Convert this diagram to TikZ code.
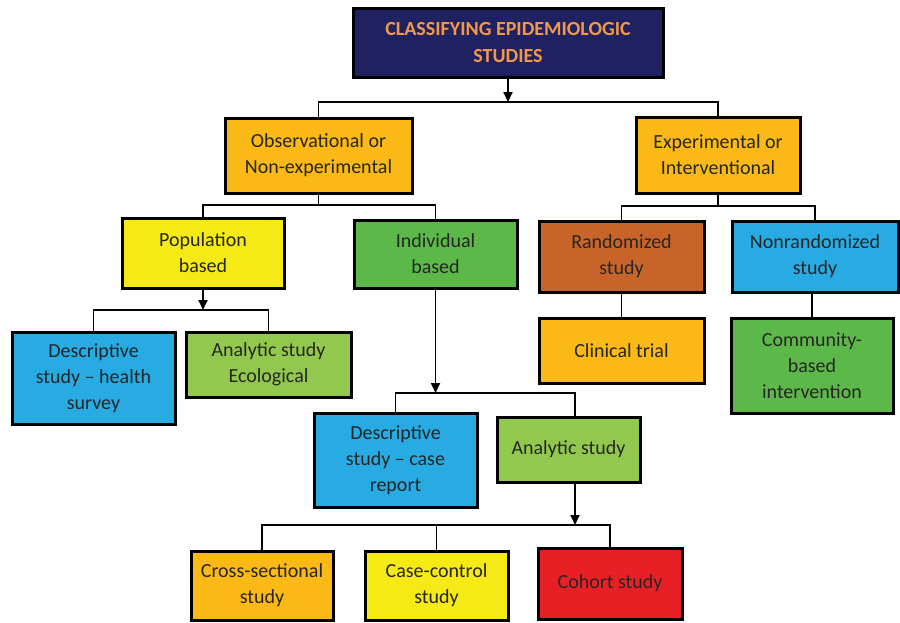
\documentclass[tikz,border=0pt]{standalone}
\usepackage{fontspec}
\setmainfont{Carlito}
\usetikzlibrary{arrows.meta}
\definecolor{navy}{RGB}{31,33,96}
\definecolor{titletext}{RGB}{242,152,72}
\definecolor{amber}{RGB}{250,185,22}
\definecolor{lemon}{RGB}{245,234,22}
\definecolor{leaf}{RGB}{92,184,72}
\definecolor{lime}{RGB}{146,200,78}
\definecolor{rust}{RGB}{200,100,42}
\definecolor{sky}{RGB}{40,170,226}
\definecolor{scarlet}{RGB}{232,32,38}
\definecolor{ink}{RGB}{38,38,38}
\tikzset{
  box/.style={draw=black, line width=3pt, align=center, text=ink, inner sep=1pt,
    font=\fontsize{20}{26}\selectfont},
  conn/.style={line width=1.8pt, draw=black},
  arr/.style={conn, -{Triangle[length=10pt, width=9pt]}},
}
\begin{document}
\begin{tikzpicture}[x=1pt, y=-1pt]
\useasboundingbox (0,0) rectangle (900,622);

% title
\node[box, fill=navy, text=titletext, minimum width=310, minimum height=69,
  font=\bfseries\fontsize{20}{27}\selectfont] (title) at (508,42.5)
  {CLASSIFYING EPIDEMIOLOGIC\\STUDIES};

% second level
\node[box, fill=amber, minimum width=187, minimum height=75] (obs) at (318.5,155.5)
  {Observational or\\Non-experimental};
\node[box, fill=amber, minimum width=164, minimum height=76] (exp) at (718,155)
  {Experimental or\\Interventional};

% third level
\node[box, fill=lemon, minimum width=162, minimum height=70] (pop) at (203,253)
  {Population\\based};
\node[box, fill=leaf, minimum width=163, minimum height=68] (ind) at (435.5,254)
  {Individual\\based};
\node[box, fill=rust, minimum width=165, minimum height=71] (rand) at (621.5,256.5)
  {Randomized\\study};
\node[box, fill=sky, minimum width=166, minimum height=71] (nonr) at (815,256.5)
  {Nonrandomized\\study};

% fourth level
\node[box, fill=amber, minimum width=165, minimum height=65] (clin) at (621.5,350.5)
  {Clinical trial};
\node[box, fill=leaf, minimum width=162, minimum height=95] (comm) at (812,365.5)
  {Community-\\based\\intervention};
\node[box, fill=sky, minimum width=163, minimum height=92] (dhs) at (93.5,378)
  {Descriptive\\study -- health\\survey};
\node[box, fill=lime, minimum width=165, minimum height=65] (eco) at (268.5,364.5)
  {Analytic study\\Ecological};

% fifth level
\node[box, fill=sky, minimum width=163, minimum height=94] (dcr) at (395.5,460)
  {Descriptive\\study -- case\\report};
\node[box, fill=lime, minimum width=143, minimum height=65] (ana) at (568.5,449.5)
  {Analytic study};

% bottom level
\node[box, fill=amber, minimum width=142, minimum height=69] (cross) at (262,585.5)
  {Cross-sectional\\study};
\node[box, fill=lemon, minimum width=143, minimum height=69] (cc) at (436.5,585.5)
  {Case-control\\study};
\node[box, fill=scarlet, minimum width=144, minimum height=71] (coh) at (610,583.5)
  {Cohort study};

% branch points
\coordinate (b1) at (508,102);
\coordinate (b2) at (318.5,205);
\coordinate (b3) at (718,206);
\coordinate (b4) at (203,310);
\coordinate (b5) at (435.5,393);
\coordinate (b6) at (575,525);

% connectors
\draw[arr] (title.south) -- (b1);
\draw[conn] (obs.north) |- (b1) -| (exp.north);

\draw[conn] (obs.south) -- (b2);
\draw[conn] (pop.north) |- (b2) -| (ind.north);

\draw[conn] (exp.south) -- (b3);
\draw[conn] (rand.north) |- (b3) -| (nonr.north);
\draw[conn] (rand.south) -- (clin.north);
\draw[conn] (nonr.south -| comm.north) -- (comm.north);

\draw[arr] (pop.south) -- (b4);
\draw[conn] (dhs.north) |- (b4) -| (eco.north);

\draw[arr] (ind.south) -- (b5);
\draw[conn] (dcr.north) |- (b5) -| (ana.north -| b6);

\draw[arr] (ana.south -| b6) -- (b6);
\draw[conn] (cross.north) |- (b6) -| (coh.north);
\draw[conn] (cc.north) -- (cc.north |- b6);
\end{tikzpicture}
\end{document}
